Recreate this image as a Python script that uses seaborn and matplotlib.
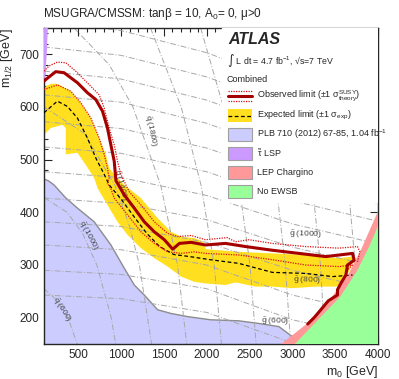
import numpy as np
import pandas as pd
import seaborn as sns
import matplotlib.pyplot as plt
from matplotlib.patches import Rectangle
from matplotlib.lines import Line2D
from matplotlib.ticker import MultipleLocator

# Limites: (m0, m1/2) en GeV
obs_m0 = [100, 120, 237, 334, 490, 607, 705, 783, 841, 881, 920, 940, 1037, 1154, 1271, 1388, 1505,
          1603, 1681, 1818, 1985, 2219, 2454, 2766, 3078, 3391, 3703, 3722, 3644, 3625, 3566, 3527,
          3527, 3420, 3260, 3180]
obs_m12 = [649, 652, 667, 665, 646, 627, 614, 592, 560, 528, 497, 460, 433, 408, 382, 363, 348,
           330, 341, 343, 338, 341, 335, 328, 322, 316, 322, 309, 300, 281, 265, 253,
           243, 232, 201, 188]

obs_up_m0 = [100, 160, 256, 354, 490, 647, 744, 803, 861, 920, 958, 998, 1095, 1232, 1388, 1544, 1661,
             1818, 1985, 2239, 2337, 2493, 2766, 3156, 3546, 3761, 3789, 3761]
obs_up_m12 = [668, 678, 685, 684, 665, 639, 623, 598, 560, 528, 497, 472, 439, 414, 382, 360, 354,
              356, 348, 352, 344, 348, 341, 335, 332, 335, 325, 306]

obs_dn_m0 = [100, 256, 412, 529, 647, 744, 803, 841, 861, 840, 880, 920, 1076, 1232, 1388, 1544, 1700,
             1856, 1985, 2376, 2766, 3156, 3546, 3703, 3640]
obs_dn_m12 = [633, 642, 630, 608, 579, 541, 510, 484, 465, 455, 445, 427, 395, 363, 341, 325, 322,
              325, 322, 319, 310, 300, 297, 300, 290]

exp_m0 = [100, 256, 373, 490, 607, 705, 803, 861, 1000, 1150, 1300, 1450, 1614, 1800, 2044, 2376,
          2766, 3156, 3469, 3703]
exp_m12 = [589, 611, 601, 579, 541, 503, 472, 452, 425, 392, 360, 335, 320, 316, 310, 303,
           286, 284, 278, 281]

band_up_m0 = [100, 178, 256, 412, 529, 647, 744, 822, 861, 920, 1037, 1232, 1427, 1583, 1700, 1856,
              1950, 1990, 2376, 2766, 3156, 3546, 3703, 3722]
band_up_m12 = [637, 644, 644, 630, 608, 579, 541, 510, 484, 472, 452, 427, 389, 363, 354, 351,
               345, 330, 325, 322, 319, 313, 316, 309]
band_dn_m0 = [3586, 3508, 3273, 3000, 2766, 2571, 2337, 2219, 1985, 1856, 1700, 1544, 1388, 1232,
              1076, 958, 841, 725, 686, 588, 490, 354, 354, 315, 178, 100]
band_dn_m12 = [262, 259, 259, 256, 259, 259, 267, 262, 265, 268, 278, 297, 313, 332,
               357, 382, 414, 446, 465, 490, 513, 510, 560, 566, 560, 547]

plb_m0 = [100, 150, 217, 350, 490, 686, 881, 1037, 1154, 1271, 1427, 1583, 1778, 2044, 2376, 2610,
          2844, 3000, 3085]
plb_m12 = [463, 460, 452, 428, 408, 382, 338, 294, 262, 243, 215, 208, 202, 196, 194, 189,
           183, 164, 150]

lep_m0 = [2870, 3150, 3420, 3650, 3810, 3930, 4000, 4000]
lep_m12 = [150, 186, 230, 281, 332, 376, 402, 150]
ewsb_m0 = [3030, 3300, 3560, 3760, 3900, 4000, 4000]
ewsb_m12 = [150, 196, 240, 290, 336, 374, 150]
stau_m0 = [100, 145, 132, 115, 100]
stau_m12 = [750, 750, 700, 660, 648]

# lineas de masa constante de squark (aprox. leidas)
sq_mass = [600, 1000, 1400, 1800, 2200, 2600, 3000, 3400, 3800]
sq_m0 = [[100, 250, 379, 488],
         [100, 369, 550, 717, 885, 937],
         [100, 571, 931, 1100, 1214, 1356],
         [450, 862, 1138, 1465, 1660, 1766],
         [1343, 1702, 1936, 2087, 2172],
         [1929, 2195, 2380, 2505, 2577],
         [2442, 2656, 2812, 2918, 2980],
         [2919, 3101, 3235, 3328, 3382],
         [3377, 3535, 3653, 3735, 3784]]
sq_m12 = [[255, 233, 200, 150],
          [428, 400, 360, 300, 200, 150],
          [600, 550, 450, 373, 300, 150],
          [750, 680, 600, 450, 300, 150],
          [750, 600, 450, 300, 150],
          [750, 600, 450, 300, 150],
          [750, 600, 450, 300, 150],
          [750, 600, 450, 300, 150],
          [750, 600, 450, 300, 150]]

# lineas de masa constante de gluino
gl_mass = [500, 600, 700, 800, 900, 1000, 1100, 1200, 1300, 1400, 1500, 1600]
gl_m0 = [100, 1000, 2000, 3000, 4000]
gl_m12 = [[243, 236, 210, 152, 120],
          [290, 282, 255, 196, 160],
          [338, 329, 300, 243, 206],
          [382, 373, 343, 290, 252],
          [427, 417, 386, 334, 296],
          [477, 466, 432, 378, 340],
          [524, 512, 477, 422, 383],
          [572, 559, 522, 466, 426],
          [623, 609, 569, 510, 470],
          [668, 653, 613, 554, 513],
          [714, 698, 657, 598, 556],
          [762, 745, 703, 642, 600]]

sq_lab = ['600', '1000', '1400', '1800']
sq_lab_m0 = [299, 607, 990, 1341]
sq_lab_m12 = [215, 356, 452, 554]
sq_lab_rot = [-58, -62, -75, -78]
gl_lab = ['600', '800', '1000']
gl_lab_m0 = [2805, 3176, 3156]
gl_lab_m12 = [192, 270, 357]

sns.set_style('ticks')
plt.rcParams['font.family'] = ['Liberation Sans', 'DejaVu Sans']
plt.rcParams['mathtext.default'] = 'regular'

fig = plt.figure(figsize=(3.99, 3.79), dpi=100)
ax = fig.add_axes([0.1103, 0.0923, 0.837, 0.834])

c_obs = '#a50000'
c_dot = '#dd1111'
c_yel = '#ffdf1f'
c_plb = '#ccccff'
c_stau = '#cc99ff'
c_lep = '#ff9999'
c_ewsb = '#99ff99'
c_grey = '#a8a8a8'

# regiones
ax.fill(plb_m0 + [100], plb_m12 + [150], color=c_plb, lw=0, zorder=1)
ax.plot(plb_m0, plb_m12, color='#8c8c8c', lw=1.0, zorder=1.1)
ax.fill(band_up_m0 + band_dn_m0, band_up_m12 + band_dn_m12, color=c_yel, lw=0, zorder=2)

# lineas de masa
for m0s, m12s in zip(sq_m0, sq_m12):
    ax.plot(m0s, m12s, color=c_grey, lw=0.7, ls=(0, (6, 2, 1, 2)), zorder=2.5)
for m12s in gl_m12:
    ax.plot(gl_m0, m12s, color=c_grey, lw=0.7, ls=(0, (6, 2, 1, 2)), zorder=2.5)
for t, x, y, r in zip(sq_lab, sq_lab_m0, sq_lab_m12, sq_lab_rot):
    ax.text(x, y, r'$\tilde{q}$ (' + t + ')', rotation=r, rotation_mode='anchor',
            ha='center', va='center', fontsize=6, color='#444444', zorder=2.6)
for t, x, y in zip(gl_lab, gl_lab_m0, gl_lab_m12):
    ax.text(x, y, r'$\tilde{g}$ (' + t + ')', rotation=-2, ha='center', va='center',
            fontsize=6, color='#444444', zorder=2.6)

ax.fill(lep_m0, lep_m12, color=c_lep, lw=0, zorder=4)
ax.fill(ewsb_m0, ewsb_m12, color=c_ewsb, lw=0, zorder=4.1)
ax.fill(stau_m0, stau_m12, color=c_stau, lw=0, zorder=4)

# limites
sns.lineplot(x=exp_m0, y=exp_m12, sort=False, estimator=None, color='black', lw=0.9,
             ax=ax, zorder=4.3).lines[-1].set_linestyle((0, (3, 2)))
sns.lineplot(x=obs_up_m0, y=obs_up_m12, sort=False, estimator=None, color=c_dot, lw=0.9,
             ax=ax, zorder=4.4).lines[-1].set_linestyle((0, (1, 1)))
sns.lineplot(x=obs_dn_m0, y=obs_dn_m12, sort=False, estimator=None, color=c_dot, lw=0.9,
             ax=ax, zorder=4.4).lines[-1].set_linestyle((0, (1, 1)))
sns.lineplot(x=obs_m0, y=obs_m12, sort=False, estimator=None, color=c_obs, lw=2.2,
             ax=ax, zorder=4.5)

ax.set_xlim(100, 4000)
ax.set_ylim(150, 750)
ax.xaxis.set_major_locator(MultipleLocator(500))
ax.xaxis.set_minor_locator(MultipleLocator(100))
ax.yaxis.set_major_locator(MultipleLocator(100))
ax.yaxis.set_minor_locator(MultipleLocator(20))
ax.tick_params(which='both', direction='in', top=True, right=True, width=0.8, labelsize=8.5)
ax.tick_params(which='major', length=6)
ax.tick_params(which='minor', length=3)
for s in ax.spines.values():
    s.set_linewidth(1.0)
ax.set_xlabel('m$_0$ [GeV]', loc='right', fontsize=9, labelpad=2)
ax.set_ylabel('m$_{1/2}$ [GeV]', loc='top', fontsize=9, labelpad=3)

fig.text(0.108, 0.963, 'MSUGRA/CMSSM: tanβ = 10, A$_0$= 0, μ>0', fontsize=8.5,
         ha='left', va='center')

# leyenda
T = ax.transAxes
ax.add_patch(Rectangle((0.533, 0.45), 0.467, 0.55, transform=T, color='white', zorder=6))
ax.text(0.551, 0.962, 'ATLAS', transform=T, fontsize=11.5, fontweight='bold',
        fontstyle='italic', va='center', zorder=7)
ax.text(0.547, 0.897, '∫ L dt = 4.7 fb$^{-1}$, √s=7 TeV', transform=T, fontsize=6.3,
        va='center', zorder=7)
ax.text(0.547, 0.836, 'Combined', transform=T, fontsize=6.5, va='center', zorder=7)

px0, px1, ph = 0.551, 0.623, 0.041
ax.add_line(Line2D([px0, px1], [0.785, 0.785], transform=T, color=c_obs, lw=2.2, zorder=7))
for yy in (0.801, 0.769):
    ax.add_line(Line2D([px0, px1], [yy, yy], transform=T, color=c_dot, lw=0.9,
                       ls=(0, (1, 1)), zorder=7))
ax.add_patch(Rectangle((px0, 0.703), px1 - px0, ph, transform=T, color=c_yel, lw=0, zorder=7))
ax.add_line(Line2D([px0, px1], [0.722, 0.722], transform=T, color='black', lw=0.9,
                   ls=(0, (3, 2)), zorder=7.1))
box_rows = [(0.663, c_plb), (0.604, c_stau), (0.543, c_lep), (0.483, c_ewsb)]
for yc, col in box_rows:
    ax.add_patch(Rectangle((px0, yc - ph / 2), px1 - px0, ph, transform=T, facecolor=col,
                           edgecolor='#a0a0a0', lw=0.8, zorder=7))

labels = [(0.785, r'Observed limit (±1 $\sigma^{SUSY}_{theory}$)'),
          (0.722, r'Expected limit (±1 $\sigma_{exp}$)'),
          (0.663, 'PLB 710 (2012) 67-85, 1.04 fb$^{-1}$'),
          (0.604, r'$\tilde{\tau}$ LSP'),
          (0.543, 'LEP Chargino'),
          (0.483, 'No EWSB')]
for yc, txt in labels:
    ax.text(0.638, yc, txt, transform=T, fontsize=6.5, va='center', zorder=7)

fig.savefig('out.png', dpi=100)
